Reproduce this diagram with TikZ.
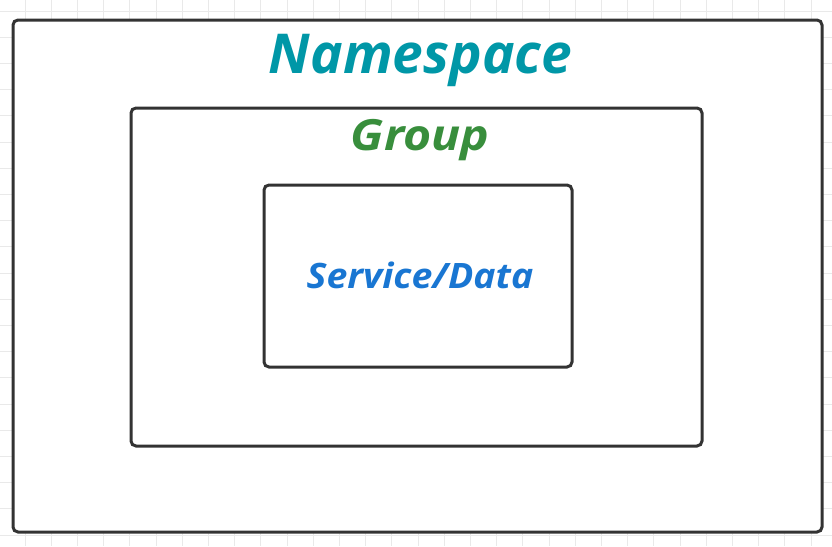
\documentclass[tikz,border=0pt]{standalone}
\usepackage{fontspec}
\setmainfont{Open Sans}
\definecolor{gridc}{HTML}{E9E9E9}
\definecolor{boxc}{HTML}{333333}
\definecolor{nsc}{HTML}{0097A7}
\definecolor{grc}{HTML}{388E3C}
\definecolor{svc}{HTML}{1976D2}
\tikzset{
  frame/.style={draw=boxc, line width=3pt, rounded corners=5pt, fill=white},
  lbl/.style={inner sep=0pt, anchor=base},
}
\begin{document}
\begin{tikzpicture}[x=1pt,y=-1pt]
\useasboundingbox (0,0) rectangle (832,546);
\fill[white] (0,0) rectangle (832,546);
\foreach \i in {0,...,31} {
  \draw[gridc, line width=1pt] ({25+26.2*\i},0) -- ({25+26.2*\i},546);
}
\foreach \j in {0,...,20} {
  \draw[gridc, line width=1pt] (0,{11+26.2*\j}) -- (832,{11+26.2*\j});
}
\path[frame] (13,20) rectangle (822,532);
\path[frame] (131,108) rectangle (702,446);
\path[frame] (264,185) rectangle (572,367);
\node[lbl, text=nsc, font=\fontsize{55}{60}\selectfont\bfseries\itshape] (ns) at (420.5,73) {Namespace};
\node[lbl, text=grc, font=\fontsize{43}{48}\selectfont\bfseries\itshape\addfontfeature{FakeStretch=1.12}] (gr) at (420,150) {Group};
\node[lbl, text=svc, font=\fontsize{35}{40}\selectfont\bfseries\itshape\addfontfeature{FakeStretch=1.07}] (sv) at (420,288) {Service/Data};
\end{tikzpicture}
\end{document}
